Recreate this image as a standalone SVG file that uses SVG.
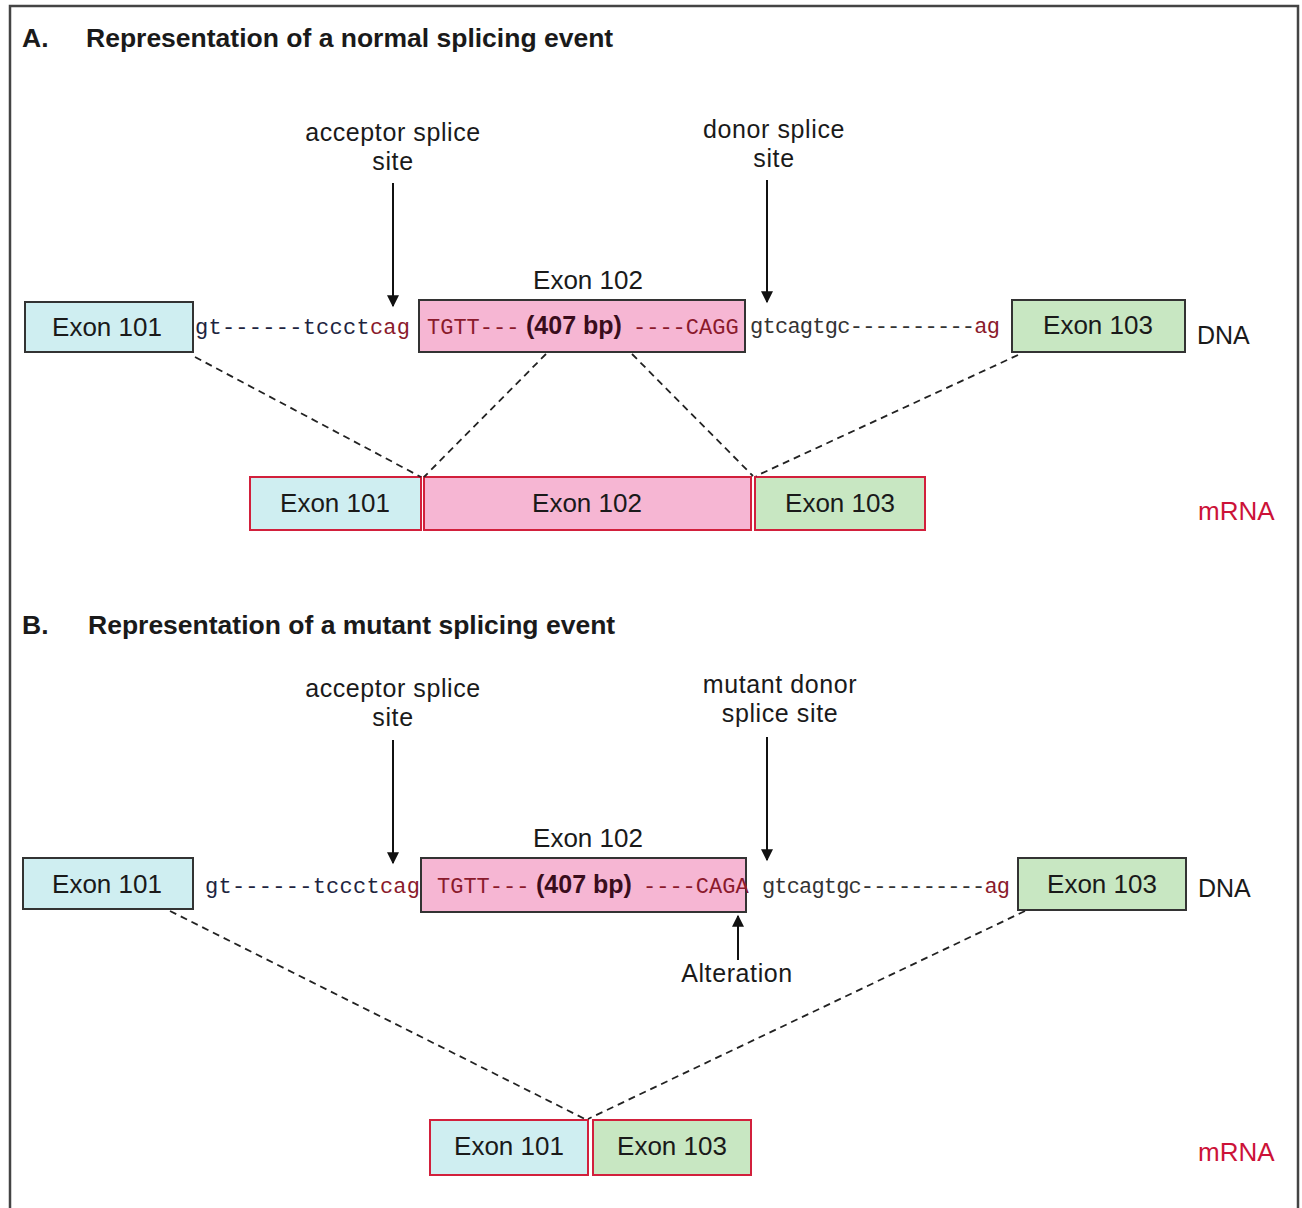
<svg xmlns="http://www.w3.org/2000/svg" width="1302" height="1208" viewBox="0 0 1302 1208">
<defs>
<marker id="ahl" viewBox="0 0 10 10" refX="9" refY="5" markerWidth="18" markerHeight="12" markerUnits="userSpaceOnUse" orient="auto">
<path d="M0,0 L10,5 L0,10 Z" fill="#111"/>
</marker>
</defs>
<style>
text{font-family:"Liberation Sans",Arial,sans-serif;fill:#1a1a1a}
.title{font-size:26.5px;font-weight:bold}
.lbl{font-size:25px;letter-spacing:0.6px;text-anchor:middle}
.ex{font-size:26px;text-anchor:middle}
.mono{font-family:"Liberation Mono","Courier New",monospace;font-size:22px}
.dna{fill:#1d2440}
.red{fill:#8a1a2c}
.bold{font-family:"Liberation Sans",Arial,sans-serif;font-weight:bold;font-size:25px;fill:#3a0d1c}
.mrna{font-size:26px;fill:#cc1238}
.dnal{font-size:25px}
.b101{fill:#cfeef1;stroke:#333;stroke-width:2}
.b102{fill:#f6b6d3;stroke:#333;stroke-width:2}
.b103{fill:#c8e7c2;stroke:#333;stroke-width:2}
.m101{fill:#cfeef1;stroke:#d2203c;stroke-width:2}
.m102{fill:#f6b6d3;stroke:#d2203c;stroke-width:2}
.m103{fill:#c8e7c2;stroke:#d2203c;stroke-width:2}
.dash{stroke:#222;stroke-width:1.8;stroke-dasharray:7,5;fill:none}
.arr{stroke:#111;stroke-width:2;fill:none}
.frame{stroke:#444;stroke-width:2.5;fill:none}
</style>
<rect x="0" y="0" width="1302" height="1208" fill="#ffffff"/>
<path class="frame" d="M10,1208 L10,6 L1298,6 L1298,1208"/>

<!-- Section A -->
<g id="titleA">
<text class="title" x="22" y="47">A.</text>
<text class="title" x="86" y="47">Representation of a normal splicing event</text>
</g>
<g id="acceptorA">
<text class="lbl" x="393" y="141">acceptor splice</text>
<text class="lbl" x="393" y="170">site</text>
</g>
<g id="donorA">
<text class="lbl" x="774" y="138">donor splice</text>
<text class="lbl" x="774" y="167">site</text>
</g>
<g id="exon101A">
<rect class="b101" x="25" y="302" width="168" height="50"/>
<text class="ex" x="107" y="336">Exon 101</text>
</g>
<g id="intron1A">
<text class="mono" x="195" y="334" textLength="215" lengthAdjust="spacing"><tspan class="dna">gt------tccct</tspan><tspan class="red">cag</tspan></text>
</g>
<g id="exon102A">
<text class="ex" x="588" y="289">Exon 102</text>
<rect class="b102" x="419" y="300" width="326" height="52"/>
<text class="mono" y="334"><tspan class="red" x="427">TGTT---</tspan><tspan class="bold" x="526">(407 bp)</tspan><tspan class="red" x="633">----CAGG</tspan></text>
</g>
<g id="intron2A">
<text class="mono" x="750" y="333" textLength="250" lengthAdjust="spacing"><tspan fill="#333">gtcagtgc----------</tspan><tspan class="red">ag</tspan></text>
</g>
<g id="exon103A">
<rect class="b103" x="1012" y="300" width="173" height="52"/>
<text class="ex" x="1098" y="334">Exon 103</text>
</g>
<g id="dnaA"><text class="dnal" x="1197" y="344">DNA</text></g>
<g id="mrnaA1">
<rect class="m101" x="250" y="477" width="171" height="53"/>
<text class="ex" x="335" y="512">Exon 101</text>
</g>
<g id="mrnaA2">
<rect class="m102" x="424" y="477" width="327" height="53"/>
<text class="ex" x="587" y="512">Exon 102</text>
</g>
<g id="mrnaA3">
<rect class="m103" x="755" y="477" width="170" height="53"/>
<text class="ex" x="840" y="512">Exon 103</text>
</g>
<g id="mrnaLabelA"><text class="mrna" x="1198" y="520">mRNA</text></g>

<!-- Section B -->
<g id="titleB">
<text class="title" x="22" y="634">B.</text>
<text class="title" x="88" y="634">Representation of a mutant splicing event</text>
</g>
<g id="acceptorB">
<text class="lbl" x="393" y="697">acceptor splice</text>
<text class="lbl" x="393" y="726">site</text>
</g>
<g id="donorB">
<text class="lbl" x="780" y="693">mutant donor</text>
<text class="lbl" x="780" y="722">splice site</text>
</g>
<g id="exon101B">
<rect class="b101" x="23" y="858" width="170" height="51"/>
<text class="ex" x="107" y="893">Exon 101</text>
</g>
<g id="intron1B">
<text class="mono" x="205" y="893" textLength="215" lengthAdjust="spacing"><tspan class="dna">gt------tccct</tspan><tspan class="red">cag</tspan></text>
</g>
<g id="exon102B">
<text class="ex" x="588" y="847">Exon 102</text>
<rect class="b102" x="421" y="858" width="325" height="54"/>
<text class="mono" y="893"><tspan class="red" x="437">TGTT---</tspan><tspan class="bold" x="536">(407 bp)</tspan><tspan class="red" x="643">----CAGA</tspan></text>
</g>
<g id="intron2B">
<text class="mono" x="762" y="893" textLength="248" lengthAdjust="spacing"><tspan fill="#333">gtcagtgc----------</tspan><tspan class="red">ag</tspan></text>
</g>
<g id="exon103B">
<rect class="b103" x="1018" y="858" width="168" height="52"/>
<text class="ex" x="1102" y="893">Exon 103</text>
</g>
<g id="dnaB"><text class="dnal" x="1198" y="897">DNA</text></g>
<g id="alteration"><text class="lbl" x="737" y="982">Alteration</text></g>
<g id="mrnaB1">
<rect class="m101" x="430" y="1120" width="158" height="55"/>
<text class="ex" x="509" y="1155">Exon 101</text>
</g>
<g id="mrnaB2">
<rect class="m103" x="593" y="1120" width="158" height="55"/>
<text class="ex" x="672" y="1155">Exon 103</text>
</g>
<g id="mrnaLabelB"><text class="mrna" x="1198" y="1161">mRNA</text></g>

<g id="connectors">
<line class="arr" x1="393" y1="183" x2="393" y2="306" marker-end="url(#ahl)"/>
<line class="arr" x1="767" y1="180" x2="767" y2="302" marker-end="url(#ahl)"/>
<line class="arr" x1="393" y1="740" x2="393" y2="863" marker-end="url(#ahl)"/>
<line class="arr" x1="767" y1="737" x2="767" y2="860" marker-end="url(#ahl)"/>
<line class="arr" x1="738" y1="960" x2="738" y2="916" marker-end="url(#ahl)"/>
<line class="dash" x1="195" y1="357" x2="421" y2="477"/>
<line class="dash" x1="546" y1="354" x2="424" y2="477"/>
<line class="dash" x1="632" y1="354" x2="753" y2="476"/>
<line class="dash" x1="1018" y1="355" x2="756" y2="476"/>
<line class="dash" x1="170" y1="911" x2="585" y2="1119"/>
<line class="dash" x1="1025" y1="911" x2="588" y2="1119"/>
</g>
</svg>
